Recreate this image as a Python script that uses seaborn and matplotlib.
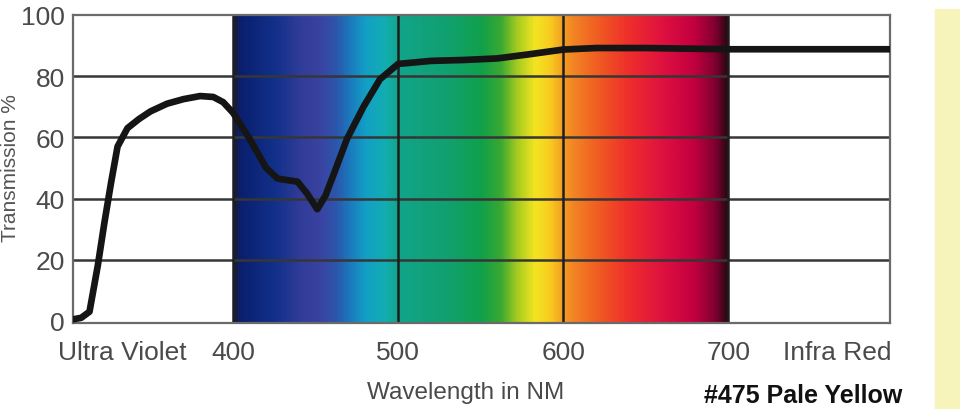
import numpy as np
import pandas as pd
import matplotlib
matplotlib.use("Agg")
import matplotlib.pyplot as plt
import seaborn as sns
from matplotlib.colors import LinearSegmentedColormap
from matplotlib.patches import Rectangle

# transmission curve
wavelength = [303, 308, 313, 318, 322, 326, 330, 336, 343, 350, 360, 370, 380, 388, 394,
              400, 410, 420, 427, 433, 439, 445, 451, 456, 461, 469, 479, 489, 500,
              520, 540, 560, 580, 600, 620, 650, 700, 750, 798]
transmission = [0.5, 1.0, 3.0, 18, 32, 45, 57, 63, 66, 68.5, 71, 72.5, 73.5, 73.2, 71.5,
                68, 59.5, 50, 46.5, 46, 45.5, 41.5, 36.5, 41, 48, 59.5, 70, 79, 84,
                85, 85.3, 85.8, 87.2, 88.7, 89.2, 89.2, 88.8, 88.8, 88.8]

y_ticks = [0, 20, 40, 60, 80, 100]
x_ticks = [400, 500, 600, 700]
x_tick_labels = ["400", "500", "600", "700"]

df = pd.DataFrame({"wavelength": wavelength, "transmission": transmission})

sns.set_style("white")
plt.rcParams["font.family"] = ["Liberation Sans", "DejaVu Sans"]

fig = plt.figure(figsize=(9.6, 4.1), dpi=100)
ax = fig.add_axes([73 / 960, 1 - 324 / 410, 817 / 960, 308 / 410])

# visible spectrum band, 400-700 nm
spec_stops = [
    (0.000, "#1a1a30"), (0.012, "#0a1f6e"), (0.083, "#12308a"), (0.133, "#2f3c98"),
    (0.173, "#3a42a0"), (0.207, "#2c56ac"), (0.233, "#1b78bc"), (0.267, "#12a0c6"),
    (0.307, "#12aeb0"), (0.333, "#12a48a"), (0.433, "#10a070"), (0.500, "#10a04c"),
    (0.540, "#38a832"), (0.575, "#a8cc20"), (0.610, "#f4e422"), (0.640, "#f8cc20"),
    (0.665, "#f4a020"), (0.690, "#f38224"), (0.740, "#f05a22"), (0.800, "#ee2e2c"),
    (0.870, "#de1040"), (0.930, "#c40040"), (0.975, "#800030"), (1.000, "#280810"),
]
cmap = LinearSegmentedColormap.from_list("spectrum", spec_stops)
grad = np.linspace(0, 1, 600).reshape(1, -1)
ax.imshow(grad, cmap=cmap, aspect="auto", extent=[400, 700, -0.7, 100],
          interpolation="bilinear", zorder=0)

for yv in y_ticks[1:-1]:
    ax.axhline(yv, color="#363636", lw=1.8, zorder=1)
for xv in x_ticks:
    ax.axvline(xv, color="#1e1e1e", lw=1.8, zorder=1)

sns.lineplot(data=df, x="wavelength", y="transmission", ax=ax, color="#151515",
             lw=4.8, zorder=3, solid_capstyle="round", solid_joinstyle="round")

ax.set_xlim(303, 798)
ax.set_ylim(-0.7, 100)
ax.set_yticks(y_ticks)
ax.set_xticks(x_ticks)
ax.set_xticklabels(x_tick_labels)
ax.tick_params(axis="both", length=0, labelsize=19, labelcolor="#4a4a4a")
ax.tick_params(axis="x", pad=12)
ax.tick_params(axis="y", pad=6)
ax.set_xlabel("")
ax.set_ylabel("")
for sp in ax.spines.values():
    sp.set_color("#6a6a6a")
    sp.set_linewidth(1.6)
    sp.set_visible(True)

ax.text(0.06, -0.095, "Ultra Violet", transform=ax.transAxes, ha="center", va="center",
        fontsize=19, color="#4a4a4a")
ax.text(0.935, -0.095, "Infra Red", transform=ax.transAxes, ha="center", va="center",
        fontsize=19, color="#4a4a4a")

fig.text(466 / 960, 1 - 382 / 410, "Wavelength in NM", ha="center", va="top",
         fontsize=17.5, color="#4a4a4a")
fig.text(803 / 960, 1 - 384 / 410, "#475 Pale Yellow", ha="center", va="top",
         fontsize=18, color="#111111", fontweight="bold")
fig.text(11 / 960, 1 - 168 / 410, "Transmission %", rotation=90, ha="center", va="center",
         fontsize=15, color="#555555")

fig.patches.append(Rectangle((935 / 960, 0), 25 / 960, 1 - 10 / 410,
                             transform=fig.transFigure, color="#f6f3bb", zorder=0))

fig.savefig("out.png", dpi=100)
